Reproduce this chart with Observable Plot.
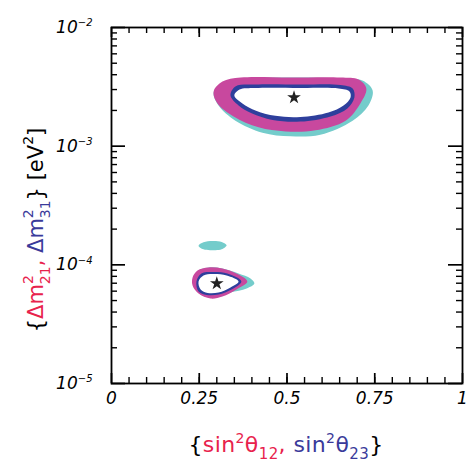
<!DOCTYPE html>
<html><head><meta charset="utf-8">
<script src="https://cdn.jsdelivr.net/npm/d3@7"></script>
<script src="https://cdn.jsdelivr.net/npm/@observablehq/plot@0.6"></script>
<style>body{margin:0;background:#fff} svg{display:block}</style>
</head><body><div id="chart"></div>
<script>
// Tick values
const xTicks = [0, 0.25, 0.5, 0.75, 1];
const xMinorTicks = d3.range(0.05, 0.99, 0.05);
const yTicks = [1e-5, 1e-4, 1e-3, 1e-2];
const yTickExponents = ["−5", "−4", "−3", "−2"];
const yMinorTicks = [1e-5, 1e-4, 1e-3].flatMap(d => [2,3,4,5,6,7,8,9].map(k => k * d));

// Best-fit points (star markers)
const bestFit = [[0.52, 2.57e-3], [0.30, 6.96e-5]];

// Atmospheric region contours {sin²θ23, Δm²31}
const atmCyan = [[0.291,2.83e-3],[0.316,3.44e-3],[0.368,3.72e-3],[0.510,3.79e-3],[0.652,3.72e-3],[0.715,3.57e-3],[0.744,2.94e-3],[0.732,2.20e-3],[0.687,1.64e-3],[0.595,1.25e-3],[0.510,1.21e-3],[0.430,1.30e-3],[0.353,1.64e-3],[0.305,2.20e-3]];
const atmMagenta = [[0.291,2.89e-3],[0.316,3.50e-3],[0.368,3.79e-3],[0.510,3.79e-3],[0.652,3.79e-3],[0.704,3.64e-3],[0.726,3.06e-3],[0.709,2.29e-3],[0.667,1.64e-3],[0.581,1.36e-3],[0.496,1.33e-3],[0.419,1.44e-3],[0.348,1.78e-3],[0.302,2.29e-3]];
const atmBlue = [[0.339,2.67e-3],[0.353,3.18e-3],[0.410,3.31e-3],[0.538,3.31e-3],[0.652,3.28e-3],[0.687,3.06e-3],[0.692,2.57e-3],[0.672,2.08e-3],[0.624,1.78e-3],[0.538,1.61e-3],[0.459,1.66e-3],[0.399,1.89e-3],[0.362,2.20e-3]];
const atmInner = [[0.350,2.67e-3],[0.365,3.00e-3],[0.410,3.09e-3],[0.538,3.09e-3],[0.647,3.06e-3],[0.678,2.89e-3],[0.681,2.57e-3],[0.661,2.20e-3],[0.618,1.92e-3],[0.538,1.76e-3],[0.467,1.80e-3],[0.410,2.00e-3],[0.373,2.29e-3]];

// Solar region contours {sin²θ12, Δm²21}
const solCyan = [[0.234,7.82e-5],[0.248,8.96e-5],[0.276,9.50e-5],[0.316,9.31e-5],[0.362,8.45e-5],[0.396,7.67e-5],[0.407,6.96e-5],[0.385,6.32e-5],[0.339,5.84e-5],[0.299,5.31e-5],[0.259,5.51e-5],[0.234,6.57e-5]];
const solMagenta = [[0.231,7.82e-5],[0.245,8.96e-5],[0.276,9.50e-5],[0.316,9.31e-5],[0.356,8.45e-5],[0.387,7.24e-5],[0.356,6.20e-5],[0.316,5.41e-5],[0.282,5.20e-5],[0.248,5.73e-5],[0.231,6.70e-5]];
const solBlue = [[0.242,7.24e-5],[0.256,8.45e-5],[0.288,8.70e-5],[0.330,8.45e-5],[0.370,7.24e-5],[0.342,6.20e-5],[0.305,5.62e-5],[0.271,5.57e-5],[0.248,5.96e-5]];
const solInner = [[0.248,7.24e-5],[0.262,8.13e-5],[0.288,8.37e-5],[0.328,8.13e-5],[0.362,7.24e-5],[0.339,6.44e-5],[0.305,5.84e-5],[0.274,5.79e-5],[0.254,6.20e-5]];
const solBlob = [[0.248,1.45e-4],[0.262,1.55e-4],[0.288,1.59e-4],[0.314,1.56e-4],[0.328,1.46e-4],[0.314,1.35e-4],[0.288,1.33e-4],[0.262,1.35e-4]];

const C_CYAN = "#74cccb", C_MAG = "#c8489e", C_BLUE = "#2e3f9c", C_RED_TXT = "#e8224c", C_BLUE_TXT = "#3a3a9a";

const W = 469, H = 467, ML = 111, MR = 7, MT = 27, MB = 84;
const innerW = W - ML - MR, innerH = H - MT - MB;

const regionMark = (data, fill) => Plot.line(data, {x: d => d[0], y: d => d[1], fill, stroke: "none", curve: "catmull-rom-closed"});
const tickFont = {fontFamily: "DejaVu Sans", fontSize: 17, fontStyle: "italic"};
// inward tick marks on each side of the frame
const bottomTicks = (ticks, len, sw) => Plot.tickX(ticks, {x: d => d, insetTop: innerH - len, stroke: "black", strokeWidth: sw});
const topTicks = (ticks, len, sw) => Plot.tickX(ticks, {x: d => d, insetBottom: innerH - len, stroke: "black", strokeWidth: sw});
const leftTicks = (ticks, len, sw) => Plot.tickY(ticks, {y: d => d, insetRight: innerW - len, stroke: "black", strokeWidth: sw});
const rightTicks = (ticks, len, sw) => Plot.tickY(ticks, {y: d => d, insetLeft: innerW - len, stroke: "black", strokeWidth: sw});

const plot = Plot.plot({
  width: W, height: H,
  marginLeft: ML, marginRight: MR, marginTop: MT, marginBottom: MB,
  x: {domain: [0, 1]},
  y: {type: "log", domain: [1e-5, 1e-2]},
  style: {background: "white", color: "black"},
  marks: [
    regionMark(atmCyan, C_CYAN), regionMark(atmMagenta, C_MAG), regionMark(atmBlue, C_BLUE), regionMark(atmInner, "white"),
    regionMark(solBlob, C_CYAN),
    regionMark(solCyan, C_CYAN), regionMark(solMagenta, C_MAG), regionMark(solBlue, C_BLUE), regionMark(solInner, "white"),
    Plot.dot(bestFit, {x: d => d[0], y: d => d[1], symbol: "star", r: 4.3, fill: "#222"}),
    Plot.axisX({anchor: "bottom", ticks: xTicks, tickSize: 0, tickPadding: 8, tickFormat: d => String(d), ...tickFont}),
    Plot.axisY({anchor: "left", ticks: yTicks, tickSize: 0, tickPadding: 19, tickFormat: d => yTickExponents[yTicks.indexOf(d)], ...tickFont}),
    Plot.frame({stroke: "black", strokeWidth: 1.8}),
    bottomTicks(xMinorTicks, 6, 1.4), bottomTicks(xTicks, 10, 1.7),
    topTicks(xMinorTicks, 6, 1.4), topTicks(xTicks, 10, 1.7),
    leftTicks(yMinorTicks, 6, 1.4), leftTicks(yTicks, 14, 1.7),
    rightTicks(yMinorTicks, 6, 1.4), rightTicks(yTicks, 14, 1.7)
  ]
});

const svg = d3.select(plot);
// fallback: inward ticks through the plot's own scales, in case the tick marks are not drawn
if (svg.selectAll("g[aria-label=tick] line").size() === 0) {
  const sx = plot.scale("x"), sy = plot.scale("y");
  const g = svg.append("g").attr("stroke", "black");
  const addX = (ticks, len, sw) => ticks.forEach(v => {
    const px = sx.apply(v);
    g.append("line").attr("x1", px).attr("x2", px).attr("y1", H - MB).attr("y2", H - MB - len).attr("stroke-width", sw);
    g.append("line").attr("x1", px).attr("x2", px).attr("y1", MT).attr("y2", MT + len).attr("stroke-width", sw);
  });
  const addY = (ticks, len, sw) => ticks.forEach(v => {
    const py = sy.apply(v);
    g.append("line").attr("y1", py).attr("y2", py).attr("x1", ML).attr("x2", ML + len).attr("stroke-width", sw);
    g.append("line").attr("y1", py).attr("y2", py).attr("x1", W - MR).attr("x2", W - MR - len).attr("stroke-width", sw);
  });
  addX(xMinorTicks, 6, 1.4); addX(xTicks, 10, 1.7);
  addY(yMinorTicks, 6, 1.4); addY(yTicks, 14, 1.7);
}

// y tick labels: 10 with superscript exponent
svg.selectAll("text").each(function() {
  const t = d3.select(this);
  const v = t.text();
  if (yTickExponents.includes(v)) {
    t.text("10");
    t.append("tspan").attr("dy", "-0.65em").attr("font-size", 10).text(v);
  }
});

function richText(sel, segs) {
  let prev = 0;
  segs.forEach(s => {
    const sh = s.shift || 0;
    const ts = sel.append("tspan").attr("dy", sh - prev).attr("fill", s.color || "black").text(s.t);
    if (s.size) ts.attr("font-size", s.size);
    if (s.dx) ts.attr("dx", s.dx);
    prev = sh;
  });
}

// x-axis title
const xt = svg.append("text").attr("x", 286).attr("y", 452).attr("text-anchor", "middle")
  .attr("font-family", "DejaVu Sans").attr("font-size", 22).attr("letter-spacing", 0.4).style("white-space", "pre");
richText(xt, [
  {t: "{"},
  {t: "sin", color: C_RED_TXT},
  {t: "2", color: C_RED_TXT, size: 14, shift: -9},
  {t: "θ", color: C_RED_TXT},
  {t: "12", color: C_RED_TXT, size: 15, shift: 7},
  {t: ", ", color: C_RED_TXT},
  {t: "sin", color: C_BLUE_TXT},
  {t: "2", color: C_BLUE_TXT, size: 14, shift: -9},
  {t: "θ", color: C_BLUE_TXT},
  {t: "23", color: C_BLUE_TXT, size: 15, shift: 7},
  {t: "}"}
]);

// y-axis title (rotated)
const yt = svg.append("text").attr("transform", "translate(43,230) rotate(-90)").attr("text-anchor", "middle")
  .attr("font-family", "DejaVu Sans").attr("font-size", 21).style("white-space", "pre");
richText(yt, [
  {t: "{"},
  {t: "Δm", color: C_RED_TXT},
  {t: "2", color: C_RED_TXT, size: 14, shift: -10},
  {t: "21", color: C_RED_TXT, size: 14, shift: 7, dx: -9},
  {t: ", ", color: C_RED_TXT},
  {t: "Δm", color: C_BLUE_TXT},
  {t: "2", color: C_BLUE_TXT, size: 14, shift: -10},
  {t: "31", color: C_BLUE_TXT, size: 14, shift: 7, dx: -9},
  {t: "} [eV"},
  {t: "2", size: 14, shift: -10},
  {t: "]"}
]);

document.getElementById("chart").appendChild(plot);
</script>
</body></html>
